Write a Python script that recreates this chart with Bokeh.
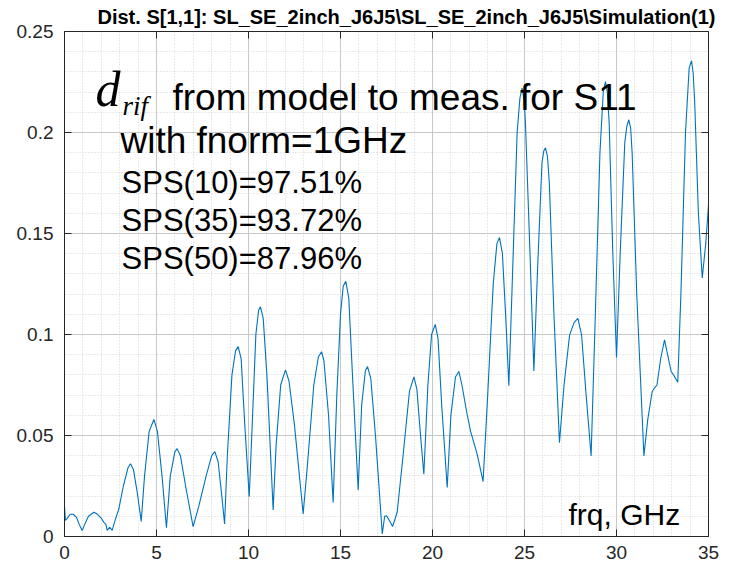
from bokeh.plotting import figure
from bokeh.models import Label, FixedTicker, LinearAxis, Range1d, Title
from bokeh.embed import file_html
from bokeh.resources import INLINE

# ---- data ----
frq = [0.0, 0.05, 0.15, 0.3, 0.47, 0.65, 0.8, 0.96, 1.1, 1.3, 1.6, 1.8, 2.0, 2.14, 2.25, 2.32, 2.46, 2.59, 2.75, 2.95,
       3.2, 3.45, 3.59, 3.75, 3.95, 4.17, 4.35, 4.6, 4.86, 5.05, 5.3, 5.54, 5.75, 6.0, 6.12, 6.3, 6.6, 6.99,
       7.3, 7.7, 8.0, 8.17, 8.35, 8.55, 8.70, 8.85, 9.1, 9.3, 9.44, 9.6, 9.8, 10.04, 10.2, 10.4, 10.55, 10.65,
       10.8, 11.0, 11.34, 11.5, 11.75, 12.01, 12.2, 12.5, 12.97, 13.2, 13.55, 13.8, 13.97, 14.1, 14.35, 14.6,
       14.8, 15.0, 15.15, 15.29, 15.45, 15.65, 15.96, 16.15, 16.35, 16.47, 16.65, 16.9, 17.27, 17.4, 17.5,
       17.65, 17.83, 18.08, 18.4, 18.75, 18.99, 19.15, 19.35, 19.53, 19.75, 19.95, 20.15, 20.3, 20.5, 20.8,
       21.0, 21.25, 21.43, 21.6, 21.85, 22.07, 22.43, 22.75, 23.0, 23.3, 23.5, 23.64, 23.8, 24.0, 24.15,
       24.35, 24.6, 24.75, 24.87, 24.98, 25.05, 25.3, 25.51, 25.7, 25.95, 26.05, 26.14, 26.25, 26.35, 26.6,
       26.9, 27.15, 27.45, 27.7, 27.9, 28.1, 28.35, 28.62, 28.85, 29.1, 29.28, 29.4, 29.5, 29.6, 29.8, 30.0,
       30.2, 30.45, 30.56, 30.67, 30.77, 30.85, 31.1, 31.49, 31.7, 31.94, 32.1, 32.2, 32.4, 32.61, 32.8,
       32.97, 33.1, 33.33, 33.5, 33.75, 33.95, 34.08, 34.17, 34.25, 34.45, 34.66, 34.85, 35.0]
dist = [0.015, 0.008, 0.009, 0.011, 0.011, 0.0095, 0.006, 0.003, 0.006, 0.010, 0.012, 0.011, 0.009, 0.007, 0.006, 0.003, 0.0046, 0.003, 0.008, 0.0136,
        0.025, 0.034, 0.036, 0.033, 0.022, 0.0075, 0.030, 0.052, 0.058, 0.052, 0.030, 0.0043, 0.030, 0.042, 0.0435, 0.040, 0.024, 0.0049,
        0.015, 0.030, 0.040, 0.042, 0.037, 0.020, 0.0062, 0.040, 0.080, 0.092, 0.094, 0.088, 0.055, 0.0197, 0.055, 0.100, 0.112, 0.1137,
        0.108, 0.080, 0.0131, 0.045, 0.075, 0.0825, 0.077, 0.055, 0.0112, 0.035, 0.075, 0.089, 0.0915, 0.087, 0.060, 0.0169,
        0.070, 0.110, 0.124, 0.1263, 0.118, 0.080, 0.023, 0.065, 0.082, 0.0841, 0.078, 0.050, 0.0013, 0.010, 0.0103,
        0.008, 0.0049, 0.012, 0.040, 0.072, 0.079, 0.073, 0.050, 0.0308, 0.075, 0.100, 0.105, 0.098, 0.065, 0.0243,
        0.060, 0.079, 0.0817, 0.075, 0.062, 0.052, 0.0407, 0.0272, 0.070, 0.125, 0.145, 0.148, 0.140, 0.105, 0.0746,
        0.130, 0.200, 0.217, 0.222, 0.216, 0.205, 0.140, 0.082, 0.130, 0.185, 0.191, 0.1924, 0.188, 0.175, 0.110,
        0.0464, 0.075, 0.0997, 0.106, 0.108, 0.100, 0.070, 0.0399, 0.110, 0.190, 0.220, 0.2252, 0.220, 0.205, 0.140, 0.0886,
        0.140, 0.195, 0.203, 0.2063, 0.202, 0.190, 0.120, 0.0399, 0.058, 0.0718, 0.074, 0.075, 0.088, 0.0973, 0.089,
        0.0817, 0.080, 0.0764, 0.120, 0.200, 0.232, 0.2355, 0.229, 0.215, 0.160, 0.128, 0.145, 0.164]

x_ticks = [0, 5, 10, 15, 20, 25, 30, 35]
x_minor = list(range(0, 36))
y_ticks = [0, 0.05, 0.1, 0.15, 0.2, 0.25]
y_tick_labels = ["0", "0.05", "0.1", "0.15", "0.2", "0.25"]
y_minor = [i / 100 for i in range(0, 26)]

title_text = "Dist. S[1,1]: SL_SE_2inch_J6J5\\SL_SE_2inch_J6J5\\Simulation(1)"
note_lines = ["with fnorm=1GHz", "SPS(10)=97.51%", "SPS(35)=93.72%", "SPS(50)=87.96%"]

W, H = 731, 568
p = figure(width=W, height=H, output_backend="svg", toolbar_location=None,
           x_range=Range1d(0, 35), y_range=Range1d(0, 0.25),
           min_border_left=64, min_border_right=23, min_border_top=28, min_border_bottom=32)
p.outline_line_color = None
p.background_fill_color = "white"

p.line(frq, dist, line_color="#0072BD", line_width=1.1)

xt = FixedTicker(ticks=x_ticks, minor_ticks=x_minor)
yt = FixedTicker(ticks=y_ticks, minor_ticks=y_minor)

for ax in (p.xaxis[0], p.yaxis[0]):
    ax.axis_line_color = "#262626"
    ax.major_tick_in = 7
    ax.major_tick_out = 0
    ax.minor_tick_in = 0
    ax.minor_tick_out = 0
    ax.major_tick_line_color = "#262626"
    ax.major_label_text_font = "Liberation Sans"
    ax.major_label_text_font_size = "19px"
    ax.major_label_text_color = "#262626"
p.xaxis[0].ticker = xt
p.yaxis[0].ticker = yt
p.xaxis[0].major_label_standoff = 9
p.yaxis[0].major_label_standoff = 11
p.yaxis[0].major_label_overrides = {t: l for t, l in zip(y_ticks, y_tick_labels)}

for loc, tk in (("above", xt), ("right", yt)):
    ax = LinearAxis(ticker=tk)
    ax.axis_line_color = "#262626"
    ax.major_tick_in = 7
    ax.major_tick_out = 0
    ax.minor_tick_in = 0
    ax.minor_tick_out = 0
    ax.major_tick_line_color = "#262626"
    ax.major_label_text_font_size = "1px"
    ax.major_label_text_color = None
    ax.major_label_text_alpha = 0
    ax.major_label_standoff = 0
    p.add_layout(ax, loc)

for g in (p.xgrid[0], p.ygrid[0]):
    g.grid_line_color = "#c8c8c8"
    g.grid_line_width = 1
    g.minor_grid_line_color = "#d4d4d4"
    g.minor_grid_line_dash = "1 2"
    g.minor_grid_line_width = 1
p.xgrid[0].ticker = xt
p.ygrid[0].ticker = yt

# title
p.add_layout(Title(text=title_text, align="left", offset=33, standoff=7,
                   text_font="Liberation Sans", text_font_style="bold", text_font_size="20px",
                   text_color="black"), "above")

# annotation
p.add_layout(Label(x=1.68, y=0.2217, text="d", text_font="Liberation Serif", text_font_style="italic",
                   text_font_size="50px", text_baseline="alphabetic", text_color="black"))
p.add_layout(Label(x=3.15, y=0.2131, text="rif", text_font="Liberation Serif", text_font_style="italic",
                   text_font_size="27px", text_baseline="alphabetic", text_color="black"))
p.add_layout(Label(x=5.87, y=0.2171, text="from model to meas. for S11", text_font="Liberation Sans",
                   text_font_size="37px", text_baseline="alphabetic", text_color="black"))
p.add_layout(Label(x=3.04, y=0.1959, text=note_lines[0], text_font="Liberation Sans",
                   text_font_size="37px", text_baseline="alphabetic", text_color="black"))
for txt, yy in zip(note_lines[1:], [0.1753, 0.1566, 0.1374]):
    p.add_layout(Label(x=3.10, y=yy, text=txt, text_font="Liberation Sans",
                       text_font_size="31px", text_baseline="alphabetic", text_color="black"))
p.add_layout(Label(x=27.39, y=0.0111, text="frq, GHz", text_font="Liberation Sans",
                   text_font_size="30px", text_baseline="alphabetic", text_color="black"))

open("out.html", "w").write(file_html(p, INLINE))
